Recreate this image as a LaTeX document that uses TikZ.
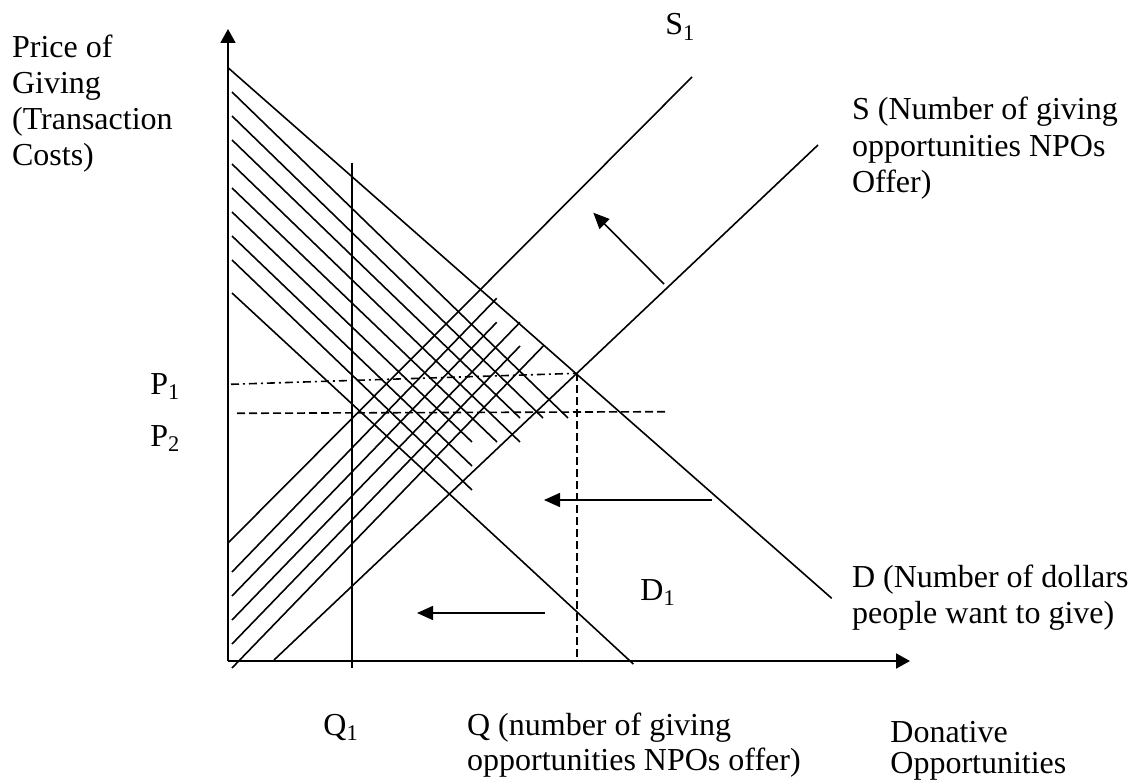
\documentclass[tikz,border=0pt]{standalone}
\usepackage{fontspec}
\setmainfont{Liberation Serif}
\usetikzlibrary{arrows.meta}
\begin{document}
\begin{tikzpicture}[x=0.5pt,y=-0.5pt,
  curve/.style={line width=0.8pt},
  axisline/.style={line width=1pt},
  hatch/.style={line width=0.8pt},
  dashline/.style={line width=0.8pt,dash pattern=on 4pt off 2pt},
  dashdotline/.style={line width=0.8pt,dash pattern=on 4pt off 2pt on 1pt off 2pt},
  shiftarrow/.style={line width=0.8pt,-{Triangle[length=8pt,width=7pt]}},
  axisarrow/.style={line width=1pt,-{Triangle[length=7pt,width=7.5pt]}},
  lbl/.style={anchor=base west,inner sep=0pt,font=\fontsize{16pt}{18pt}\selectfont}]
\useasboundingbox (0,0) rectangle (1131,781);
% key points
\coordinate (O) at (228,661);
\coordinate (ytip) at (228,29);
\coordinate (xtip) at (910,661);
\coordinate (Dtop) at (228,67.7);
\coordinate (Dend) at (831.7,598.3);
\coordinate (D1top) at (232,293);
\coordinate (D1end) at (633.3,664);
\coordinate (S1low) at (228,543);
\coordinate (S1top) at (692,77);
\coordinate (Slow) at (274,660);
\coordinate (Stop) at (818,145);
\coordinate (E) at (576.7,373.3);
\coordinate (Eb) at (576.7,661);
\coordinate (Pone) at (231,384.3);
\coordinate (Ptwoa) at (237,413.3);
\coordinate (Ptwob) at (665,411.7);
\coordinate (Qtop) at (351.7,163);
\coordinate (Qbot) at (351.7,668);
% axes
\draw[axisarrow] (O) -- (ytip);
\draw[axisarrow] (O) -- (xtip);
% demand and supply curves
\draw[curve] (Dtop) -- (Dend);
\draw[curve] (D1top) -- (D1end);
\draw[curve] (S1low) -- (S1top);
\draw[curve] (Slow) -- (Stop);
% hatching between D and D1
\foreach \ya/\xb/\yb in {92/568/418,116/543/418,140/520/418,164/520/442,188/497/442,212/472/442,236/472/466,260/472/490}
  \draw[hatch] (232,\ya) -- (\xb,\yb);
% hatching between S1 and S
\foreach \ya/\xb/\yb in {572/496.7/298.3,596/496.7/322.3,620/520/322.3,644/520/346,668/543.3/346}
  \draw[hatch] (232,\ya) -- (\xb,\yb);
% Q1 vertical
\draw[axisline] (Qtop) -- (Qbot);
% price and quantity guides
\draw[dashdotline] (Pone) -- (E);
\draw[dashline] (Ptwoa) -- (Ptwob);
\draw[dashline] (E) -- (Eb);
% shift arrows
\coordinate (a1s) at (664,284);
\coordinate (a1e) at (593.3,212.7);
\coordinate (a2s) at (712,500);
\coordinate (a2e) at (544,500);
\coordinate (a3s) at (545,613);
\coordinate (a3e) at (417,613);
\draw[shiftarrow] (a1s) -- (a1e);
\draw[shiftarrow] (a2s) -- (a2e);
\draw[shiftarrow] (a3s) -- (a3e);
% labels
\node[lbl] (yl1) at (11.7,58) {Price of};
\node[lbl] (yl2) at (11.7,94) {Giving};
\node[lbl] (yl3) at (11.7,130) {(Transaction};
\node[lbl] (yl4) at (11.7,166) {Costs)};
\node[lbl] (s1l) at (665,35) {S\textsubscript{1}};
\node[lbl] (sl1) at (851.7,120) {S (Number of giving};
\node[lbl] (sl2) at (851.7,156) {opportunities NPOs};
\node[lbl] (sl3) at (851.7,192) {Offer)};
\node[lbl] (p1l) at (150,394) {P\textsubscript{1}};
\node[lbl] (p2l) at (150,446) {P\textsubscript{2}};
\node[lbl] (d1l) at (640,600) {D\textsubscript{1}};
\node[lbl] (dl1) at (851.7,587) {D (Number of dollars};
\node[lbl] (dl2) at (851.7,623) {people want to give)};
\node[lbl] (q1l) at (323,735) {Q\textsubscript{1}};
\node[lbl] (ql1) at (466.7,735) {Q (number of giving};
\node[lbl] (ql2) at (466.7,770) {opportunities NPOs offer)};
\node[lbl] (xl1) at (890,742) {Donative};
\node[lbl] (xl2) at (890,773) {Opportunities};
\end{tikzpicture}
\end{document}
